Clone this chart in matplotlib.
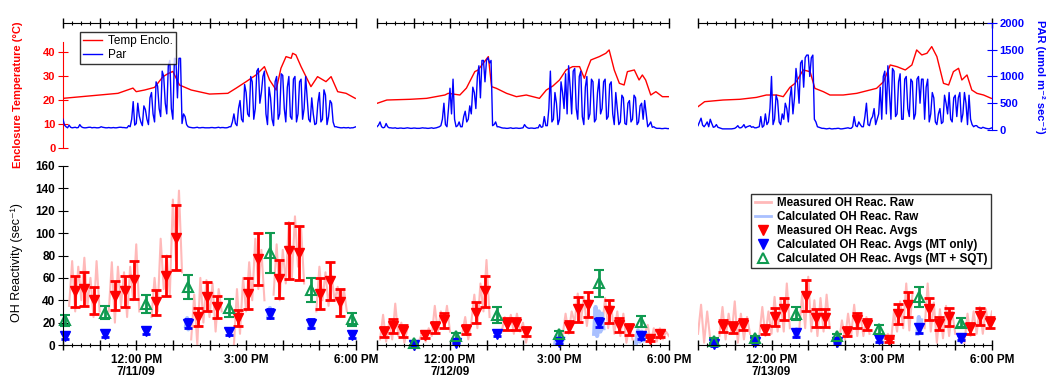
import matplotlib
matplotlib.use("Agg")
import matplotlib.pyplot as plt
import numpy as np
from matplotlib.lines import Line2D
from matplotlib.ticker import MultipleLocator, NullFormatter

plt.rcParams["font.family"] = ["Liberation Sans", "DejaVu Sans"]

N = np.nan

# ---- enclosure temperature (deg C), hours of day ----
temp_t1 = [10.00, 10.50, 11.00, 11.50, 11.91, 12.00, 12.23, 12.50, 12.73, 12.86, 13.00,
           13.18, 13.50, 14.00, 14.50, 14.73, 15.00, 15.27, 15.50, 15.64, 15.82, 15.95,
           16.09, 16.23, 16.27, 16.36, 16.50, 16.77, 16.95, 17.18, 17.32, 17.50, 17.73, 17.98]
temp_1 = [20.7, 21.4, 22.1, 22.8, 25.0, 23.5, 24.2, 25.3, 29.8, 31.0, 32.0,
          26.3, 24.2, 22.5, 22.8, 25.0, 27.7, 30.5, 34.0, 28.4, 24.2, 33.3,
          38.2, 37.5, 39.6, 38.9, 34.0, 25.6, 29.8, 27.7, 29.8, 23.5, 22.8, 20.7]
temp_t2 = [10.00, 10.27, 10.91, 11.36, 11.86, 11.95, 12.27, 12.45, 12.68, 12.77, 12.91,
           13.05, 13.14, 13.27, 13.55, 13.82, 14.09, 14.45, 14.64, 14.82, 15.00, 15.18,
           15.36, 15.55, 15.68, 15.77, 15.86, 16.09, 16.27, 16.36, 16.50, 16.64, 16.77,
           16.86, 17.05, 17.18, 17.27, 17.36, 17.50, 17.64, 17.82, 17.98]
temp_2 = [18.6, 20.0, 20.3, 20.7, 22.1, 22.8, 22.1, 25.0, 31.9, 32.6, 35.4,
          38.2, 25.6, 24.9, 22.8, 21.4, 22.1, 20.7, 24.2, 25.9, 28.4, 32.6,
          34.0, 34.0, 29.1, 33.3, 36.8, 38.2, 39.6, 41.0, 32.6, 27.0, 26.3,
          31.9, 32.6, 28.4, 30.5, 28.4, 22.1, 23.5, 21.4, 21.4]
temp_t3 = [10.00, 10.18, 10.68, 11.14, 11.59, 11.86, 12.14, 12.32, 12.50, 12.64, 12.73,
           12.86, 13.05, 13.18, 13.41, 13.59, 13.95, 14.32, 14.68, 14.86, 15.05, 15.23,
           15.41, 15.64, 15.82, 15.95, 16.09, 16.23, 16.36, 16.50, 16.68, 16.82, 16.95,
           17.09, 17.18, 17.32, 17.45, 17.59, 17.77, 17.98]
temp_3 = [17.2, 19.3, 20.0, 20.3, 21.1, 22.1, 22.1, 21.4, 25.3, 27.0, 29.1,
          32.6, 31.9, 24.9, 23.5, 22.1, 22.1, 22.8, 24.2, 24.9, 27.7, 34.7,
          34.0, 32.6, 34.7, 41.0, 38.9, 39.6, 42.4, 38.2, 27.0, 26.3, 31.9,
          33.3, 28.4, 30.5, 24.2, 22.8, 22.1, 20.7]

# ---- PAR (umol m-2 s-1), 2.5-minute samples from 10:00 to 18:00 ----
par_1 = [200, 90, 60, 40, 90, 50,
         40, 45, 50, 40, 45, 100, 60, 45, 40, 40, 45, 50, 50, 40, 45, 45, 40, 40, 45, 60,
         50, 45, 40, 40, 45, 40, 40, 45, 40, 40, 45, 50, 50, 45, 45, 40, 40, 80, 60, 200,
         530, 90, 120, 500, 260, 150, 80, 450, 380, 200, 100, 600, 700, 300, 150, 900,
         820, 400, 250, 1100, 1000, 500, 300, 1200, 1300, 400, 200, 1340, 1330, 600,
         1340, 1340, 120, 300, 250, 100, 60, 50,
         45, 40, 40, 45, 50, 40, 40, 45, 45, 40, 40, 40, 40, 45, 45, 40, 40, 45, 50, 40,
         45, 45, 40, 40, 45, 60, 60, 150,
         300, 120, 80, 400, 550, 200, 150, 850, 700, 300, 250, 1000, 900, 200, 400, 1100,
         1150, 500, 700, 1000, 1100, 300, 100, 800, 600, 200, 80, 900, 1000, 200, 300,
         1050, 1020, 400, 150, 800, 1000, 250, 200, 950, 1000, 150, 300, 900, 950, 200,
         400, 1000, 600, 200, 150, 600, 300, 100, 120, 500, 700, 150, 200, 750, 650, 100,
         250, 550, 500, 150, 60, 60,
         50, 45, 40, 40, 45, 40, 40, 45, 35, 40, 40, 50, 60]
par_2 = [60, 90, 150, 60, 40, 50, 120, 60, 40, 40,
         35, 35, 40, 30, 30, 35, 35, 30, 30, 35, 40, 35, 30, 30, 35, 35, 30, 30, 30, 35,
         40, 35, 35, 30, 30, 35, 40, 30, 35, 40, 50, 60,
         80, 200, 500, 100, 60, 400, 780, 300, 950, 200, 60, 80, 150, 60, 60, 250, 350,
         150, 200, 450, 300, 800, 700, 400, 1000, 1200, 600, 1300, 1300, 900, 1300, 1350,
         1250, 1300, 80, 100, 150, 60, 60, 50,
         40, 35, 35, 30, 30, 35, 40, 30, 30, 35, 35, 30, 30, 35, 40, 100, 60, 40, 30, 35,
         35, 30, 30, 40,
         40, 100, 50, 60, 250, 80, 80, 400, 1100, 150, 200, 700, 500, 100, 200, 900, 700,
         400, 1050, 300, 1200, 800, 300, 1100, 1150, 400, 200, 1000, 1100, 250, 100, 800,
         1000, 200, 300, 950, 900, 150, 200, 700, 950, 300, 400, 900, 950, 200, 250, 850,
         900, 300, 100, 700, 400, 100, 150, 650, 600, 120, 100, 500, 550, 150, 200, 650,
         600, 100, 150, 450, 500, 200, 550, 300, 60, 100, 150, 50, 60, 40,
         30, 30, 30, 25, 25, 30, 30, 25, 25]
par_3 = [80, 150, 220, 90, 60, 100, 150, 60, 200, 120, 50, 60, 100, 50, 40, 30, 20, 20,
         20, 20, 20, 20, 20, 25, 30, 50, 80, 40, 40, 60, 100, 40, 60, 70, 80, 50, 60, 40,
         40, 50, 60, 250, 50, 80,
         300, 100, 150, 400, 1000, 100, 200, 650, 550, 150, 100, 300, 200, 500, 400, 150,
         600, 800, 300, 600, 1150, 900, 500, 1250, 1300, 800, 1350, 1400, 1400, 1000,
         1350, 1400, 200, 150, 60, 50, 40, 30,
         30, 25, 20, 25, 30, 20, 20, 25, 25, 30, 30, 20, 20, 25, 30, 35, 40, 30, 30, 60,
         250, 80, 60, 150, 100, 60, 60, 250, 500, 100, 80, 200, 250, 400, 100, 200, 300,
         800, 200, 1000, 1100, 300, 1200, 700, 200, 1150, 1100, 250, 300, 900, 1050, 200,
         200, 950, 1000, 400, 250, 950, 900, 200, 300, 950, 1000, 500, 950, 950, 200, 800,
         950, 150, 300, 700, 600, 150, 100, 300, 400, 120, 150, 650, 500, 300, 700, 200,
         150, 600, 650, 250, 600, 700, 150, 300, 700, 500, 100, 650, 200, 100, 60, 80,
         80, 50,
         40, 30, 50, 40, 30, 25, 20, 30, 40]

# ---- raw measured OH reactivity (s-1), 5-minute samples ----
raw_1 = [N, N, 35, 75, 30, 70, 40, 78, 35, 60, 25, 75, 30, N, N, 30, 74, 20, 70, 35,
         65, 25, 70, 40, 90, 30, N, N, N, 25, 60, 30, 95, 50, 80, 45, 130, 75, 138, 65,
         N, N, 5, 45, 0, 60, 20, 58, 25, 55, 12, 50, 30, N, N, N, 0, 50, 10, 60,
         30, 74, 40, 95, 50, 85, 40, N, N, 45, 90, 40, 85, 55, 110, 60, 115, 70, 105, 55,
         N, N, N, 30, 70, 40, 65, 35, 62, 40, 52, 25, 50, 30, N, N, N]
raw_2 = [N, 5, 27, 3, 20, 5, 37, 8, 20, 2, 15, N, N, N, 5, 12, 3, 15, 8, 35,
         12, 30, 15, 35, 12, N, N, N, 10, 25, 5, 20, 45, 15, 55, 30, 76, 25, N, N,
         N, 12, 25, 15, 27, 10, 28, 12, 20, 2, 15, N, N, N, N, N, N, N, N, N,
         N, 8, 28, 10, 30, 20, 46, 20, 43, 17, 40, N, N, N, 15, 42, 15, 35, 10, 30,
         8, 28, 2, 18, 5, N, N, N, 10, 18, 2, 15, 3, 15, 5, 12, 8]
raw_3 = [10, 36, 2, 30, 5, N, N, 8, 34, 5, 28, 10, 39, 2, 28, 5, 25, 10, N, N,
         8, 34, 8, 30, 10, 43, 12, 40, 12, 55, 15, N, N, 12, 45, 15, 61, 12, 40, 8,
         42, 12, 45, 15, N, N, 2, 22, 5, 28, 8, 36, 8, 28, 8, 25, 10, N, N, N,
         N, 5, 10, 3, 30, 12, 39, 15, 55, 13, 45, N, N, N, 15, 55, 12, 38, 2, 32,
         6, 35, 8, 30, 10, N, N, 2, 28, 8, 30, 10, 34, 10, 32, 15, 30]

# ---- raw calculated OH reactivity (s-1) ----
calc_t1 = [13.36, 13.39, 13.42, 13.46, N, 15.61, 15.65, 15.69, N, 16.73, 16.77, 16.81]
calc_1 = [17, 24, 14, 22, N, 26, 33, 27, N, 15, 22, 17]
calc_t2 = [10.99, 11.04, N, 12.14, 12.19, N, 14.88, 14.92, 14.96, 15.01, 15.05, 15.10, N,
           15.95, 15.99, 16.03, 16.08, 16.12, 16.16, 16.20, N,
           17.10, 17.15, 17.20, 17.25, 17.30, 17.35]
calc_2 = [0, 3, N, 1, 5, N, 0, 8, 2, 7, 1, 6, N,
          10, 34, 8, 30, 12, 28, 15, N,
          2, 13, 3, 12, 4, 10]
calc_t3 = [10.40, 10.43, 10.46, N, 12.64, 12.68, 12.72, N, 13.76, 13.79, 13.82, N,
           14.90, 14.93, 14.96, N, 15.97, 16.01, 16.04, 16.07, N, 17.12, 17.15, 17.18]
calc_3 = [0, 5, 1, N, 8, 14, 9, N, 0, 8, 2, N, 3, 8, 4, N, 10, 25, 12, 22, N, 4, 9, 5]

# ---- averaged OH reactivity ----
meas_t1 = [10.32, 10.56, 10.85, 11.43, 11.68, 11.95, 12.55, 12.80, 13.09, 13.68, 13.93,
           14.20, 14.79, 15.05, 15.32, 15.91, 16.18, 16.44, 17.03, 17.29, 17.56]
meas_1 = [48, 50, 40, 44, 48, 58, 38, 62, 96, 25, 43, 34, 24, 46, 77, 59, 84, 82, 46, 57, 38]
meas_e1 = [14, 15, 12, 13, 14, 17, 11, 18, 29, 8, 13, 10, 7, 14, 23, 17, 25, 24, 14, 17, 12]
meas_t2 = [10.18, 10.45, 10.72, 11.31, 11.58, 11.84, 12.43, 12.70, 12.95, 13.55, 13.82,
           14.08, 15.25, 15.50, 15.77, 16.35, 16.63, 16.90, 17.49, 17.75]
meas_2 = [12, 17, 12.5, 9, 16, 22, 13.5, 29, 48, 18.5, 18.5, 12, 16.5, 32, 36, 30, 18, 14, 5.5, 10]
meas_e2 = [4.5, 6, 5, 3, 5, 7, 4, 9, 14, 5.5, 5.5, 4, 5, 11, 11, 10, 6, 5, 2, 3]
meas_t3 = [10.68, 10.95, 11.23, 11.82, 12.09, 12.35, 12.93, 13.20, 13.45, 14.05, 14.32,
           14.59, 15.20, 15.45, 15.71, 16.29, 16.56, 16.84, 17.41, 17.68, 17.95]
meas_3 = [17, 15.5, 18, 13.5, 25, 32, 44, 24.5, 24.5, 12, 22, 18, 4.5, 28, 36, 32, 19, 25,
          15, 25.5, 20]
meas_e3 = [5, 5, 5, 4, 8, 10, 14, 8, 8, 4, 7, 5, 2, 9, 11, 10, 6, 8, 5, 8, 5]

calc_avg_t1 = [10.05, 11.16, 12.27, 13.41, 14.53, 15.65, 16.77, 17.88]
mt_1 = [8, 10, 12.5, 19, 12, 28, 19, 9]
mt_e1 = [3, 3, 3, 4, 3, 4, 4, 3]
sqt_1 = [22, 29, 37, 52, 33, 82, 49, 23]
sqt_e1 = [5, 6, 8, 11, 8, 18, 11, 6]
calc_avg_t2 = [11.02, 12.17, 13.29, 14.99, 16.08, 17.22]
mt_2 = [0, 2, 10, 3, 20, 8]
mt_e2 = [1, 1, 2, 2, 4, 3]
sqt_2 = [2, 8, 27, 9.5, 55, 21]
sqt_e2 = [2, 3, 7, 3, 12, 5]
calc_avg_t3 = [10.43, 11.55, 12.68, 13.79, 14.93, 16.02, 17.15]
mt_3 = [0.5, 3, 10.5, 3, 5, 15, 6.5]
mt_e3 = [1, 1, 3, 1, 2, 4, 2]
sqt_3 = [4, 6, 28, 8, 14, 43, 20]
sqt_e3 = [2, 2, 6, 2, 4, 9, 4]

dates = ["7/11/09", "7/12/09", "7/13/09"]

# ---------------------------------------------------------------------------
RED, BLUE = "#ff0000", "#0000ff"
GREEN = "#0f9a50"
PINK = "#ffb9b9"
LBLUE = "#a9c0ff"

W, H = 1047, 378
SEG_X = [(63, 356), (377, 669), (698, 992)]


def box(x0, x1, ytop, ybot):
    return [x0 / W, 1 - ybot / H, (x1 - x0) / W, (ybot - ytop) / H]


def time_fmt(date):
    names = {12: "12:00 PM\n" + date, 15: "3:00 PM", 18: "6:00 PM"}
    return plt.FuncFormatter(lambda v, p: names.get(int(round(v)), ""))


fig = plt.figure(figsize=(W / 100, H / 100), dpi=100)

days = [
    (temp_t1, temp_1, par_1, raw_1, calc_t1, calc_1, meas_t1, meas_1, meas_e1,
     calc_avg_t1, mt_1, mt_e1, sqt_1, sqt_e1),
    (temp_t2, temp_2, par_2, raw_2, calc_t2, calc_2, meas_t2, meas_2, meas_e2,
     calc_avg_t2, mt_2, mt_e2, sqt_2, sqt_e2),
    (temp_t3, temp_3, par_3, raw_3, calc_t3, calc_3, meas_t3, meas_3, meas_e3,
     calc_avg_t3, mt_3, mt_e3, sqt_3, sqt_e3),
]

par_grid = 10 + np.arange(193) / 24.0
raw_grid = 10 + np.arange(97) / 12.0

for i, (x0, x1) in enumerate(SEG_X):
    (tt, tv, par, raw, ct, cv, mt, mv, me, ca_t, mtv, mte, sqv, sqe) = days[i]

    # ---- top panel: temperature + PAR ----
    axt = fig.add_axes(box(x0, x1, 23, 147.7))
    axt.set_xlim(10, 18)
    axt.set_ylim(0, 52.3)
    axt.plot(tt, tv, color=RED, lw=1.0)
    axp = axt.twinx()
    axp.set_ylim(-332, 2000)
    axp.plot(par_grid, par, color=BLUE, lw=1.0)
    axt.patch.set_visible(False)

    for sp in axt.spines.values():
        sp.set_visible(False)
    for sp in axp.spines.values():
        sp.set_visible(False)
    axt.spines["top"].set_visible(True)
    axt.xaxis.tick_top()
    axt.xaxis.set_major_locator(MultipleLocator(1))
    axt.xaxis.set_minor_locator(MultipleLocator(0.25))
    axt.xaxis.set_major_formatter(NullFormatter())
    axt.tick_params(axis="x", which="major", direction="inout", length=7, width=1)
    axt.tick_params(axis="x", which="minor", direction="inout", length=3, width=0.8)

    if i == 0:
        axt.spines["left"].set_visible(True)
        axt.spines["left"].set_color(RED)
        axt.spines["left"].set_bounds(0, 44.3)
        axt.set_yticks([0, 10, 20, 30, 40])
        axt.tick_params(axis="y", colors=RED, direction="inout", length=7,
                        labelsize=8, pad=2)
        for lb in axt.get_yticklabels():
            lb.set_fontweight("bold")
    else:
        axt.set_yticks([])
    if i == 2:
        axp.spines["right"].set_visible(True)
        axp.spines["right"].set_color(BLUE)
        axp.spines["right"].set_bounds(0, 2000)
        axp.set_yticks([0, 500, 1000, 1500, 2000])
        axp.tick_params(axis="y", colors=BLUE, direction="inout", length=7,
                        labelsize=8, pad=2)
        for lb in axp.get_yticklabels():
            lb.set_fontweight("bold")
    else:
        axp.set_yticks([])

    if i == 0:
        handles = [Line2D([], [], color=RED, lw=1), Line2D([], [], color=BLUE, lw=1)]
        leg = axp.legend(handles, ["Temp Enclo.", "Par"], loc="upper left",
                         bbox_to_anchor=((80 - 63) / 293, (147.7 - 32) / 124.7),
                         fontsize=8.5, frameon=True, fancybox=False,
                         handlelength=1.6, borderpad=0.25, labelspacing=0.15,
                         handletextpad=0.5, borderaxespad=0)
        leg.get_frame().set_edgecolor("black")
        leg.get_frame().set_linewidth(1.0)

    # ---- bottom panel: OH reactivity ----
    axo = fig.add_axes(box(x0, x1, 166, 345))
    axo.set_xlim(10, 18)
    axo.set_ylim(0, 160)
    axo.patch.set_visible(False)
    axo.plot(raw_grid, raw, color=PINK, lw=1.5)
    axo.plot(ct, cv, color=LBLUE, lw=3)
    axo.errorbar(mt, mv, yerr=me, fmt="v", color=RED, ms=7.5, elinewidth=2,
                 capsize=3.5, capthick=2, clip_on=False)
    axo.errorbar(ca_t, mtv, yerr=mte, fmt="v", color=BLUE, ms=7, elinewidth=2,
                 capsize=3, capthick=2, clip_on=False)
    axo.errorbar(ca_t, sqv, yerr=sqe, fmt="^", color=GREEN, mfc="none", mew=1.5,
                 ms=7, elinewidth=2, capsize=3.5, capthick=2, clip_on=False)

    axo.spines["top"].set_visible(False)
    axo.spines["right"].set_visible(False)
    axo.xaxis.set_major_locator(MultipleLocator(1))
    axo.xaxis.set_minor_locator(MultipleLocator(0.25))
    axo.xaxis.set_major_formatter(time_fmt(dates[i]))
    axo.tick_params(axis="x", which="major", direction="inout", length=7, width=1,
                    labelsize=8.5, pad=3)
    axo.tick_params(axis="x", which="minor", direction="inout", length=3, width=0.8)
    for lb in axo.get_xticklabels():
        lb.set_fontweight("bold")
        lb.set_linespacing(1.05)
    if i == 0:
        axo.set_yticks(np.arange(0, 161, 20))
        axo.tick_params(axis="y", direction="inout", length=7, labelsize=8.5, pad=2)
        for lb in axo.get_yticklabels():
            lb.set_fontweight("bold")
    else:
        axo.spines["left"].set_visible(False)
        axo.set_yticks([])

    if i == 2:
        handles = [
            Line2D([], [], color=PINK, lw=2),
            Line2D([], [], color=LBLUE, lw=2),
            Line2D([], [], color=RED, marker="v", ls="none", ms=7),
            Line2D([], [], color=BLUE, marker="v", ls="none", ms=7),
            Line2D([], [], color=GREEN, marker="^", mfc="none", mew=1.5, ls="none", ms=7),
        ]
        names = ["Measured OH Reac. Raw", "Calculated OH Reac. Raw",
                 "Measured OH Reac. Avgs", "Calculated OH Reac. Avgs (MT only)",
                 "Calculated OH Reac. Avgs (MT + SQT)"]
        leg = axo.legend(handles, names, loc="upper right",
                         bbox_to_anchor=((991 - 698) / 294, (345 - 194) / 179),
                         prop={"weight": "bold", "size": 8.4}, frameon=True,
                         fancybox=False, handlelength=1.4, borderpad=0.3,
                         labelspacing=0.16, handletextpad=0.5, borderaxespad=0)
        leg.get_frame().set_edgecolor("black")
        leg.get_frame().set_linewidth(1.0)

fig.text(18 / W, 1 - 95 / H, "Enclosure Temperature (°C)", rotation=90,
         ha="center", va="center", color=RED, fontweight="bold", fontsize=8)
fig.text(1040 / W, 1 - 77 / H, "PAR (umol m⁻² sec⁻¹)", rotation=270,
         ha="center", va="center", color=BLUE, fontweight="bold", fontsize=8)
fig.text(17 / W, 1 - 263 / H, "OH Reactivity (sec⁻¹)", rotation=90,
         ha="center", va="center", color="black", fontsize=9)

fig.savefig("out.png", dpi=100)
